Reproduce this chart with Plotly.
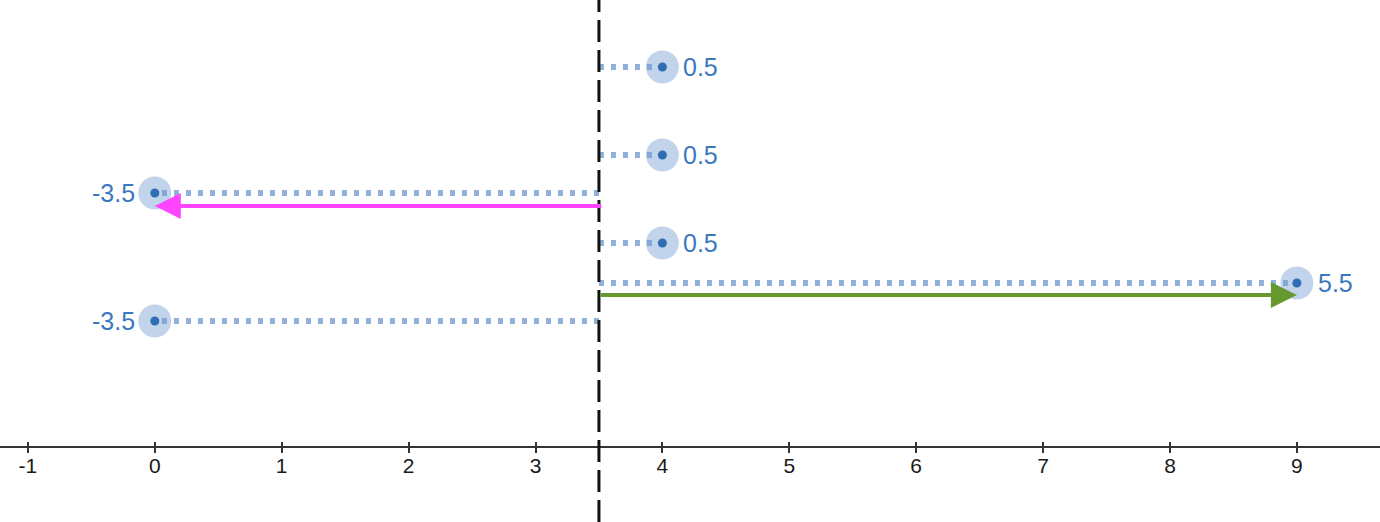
import plotly.graph_objects as go

# Data values (each row is one observation stacked vertically)
values = [4, 4, 0, 4, 9, 0]
row_levels = [380, 292, 254, 204, 164, 126]
mean_value = 3.5
arrow_neg_level = 241
arrow_pos_level = 152
neg_arrow_end = 0
pos_arrow_end = 9
tick_values = [-1, 0, 1, 2, 3, 4, 5, 6, 7, 8, 9]
tick_labels = ["-1", "0", "1", "2", "3", "4", "5", "6", "7", "8", "9"]

deviations = [v - mean_value for v in values]

def fmt(d):
    return ("%g" % d)

fig = go.Figure()

# dotted deviation lines
for v, y in zip(values, row_levels):
    fig.add_trace(go.Scatter(
        x=[mean_value, v], y=[y, y], mode="lines",
        line=dict(color="#8fb0d9", width=6, dash="5px,7px"),
        hoverinfo="skip", showlegend=False))

# halo circles
fig.add_trace(go.Scatter(
    x=values, y=row_levels, mode="markers",
    marker=dict(size=33, color="rgba(120,160,210,0.45)", line=dict(width=0)),
    hoverinfo="skip", showlegend=False))
# inner dots
fig.add_trace(go.Scatter(
    x=values, y=row_levels, mode="markers",
    marker=dict(size=9, color="#2f6db5", line=dict(width=0)),
    hoverinfo="skip", showlegend=False))

annotations = []
for v, y, d in zip(values, row_levels, deviations):
    right = d >= 0
    annotations.append(dict(
        x=v, y=y, xref="x", yref="y", text=fmt(d), showarrow=False,
        xanchor="left" if right else "right", yanchor="middle",
        xshift=19 if right else -18,
        font=dict(size=25, color="#3a78c0", family="Liberation Sans, Arial")))

# arrows
annotations.append(dict(
    x=neg_arrow_end, y=arrow_neg_level, ax=mean_value + 0.03, ay=arrow_neg_level,
    xref="x", yref="y", axref="x", ayref="y", text="", showarrow=True,
    arrowhead=2, arrowwidth=4, arrowsize=1.3, arrowcolor="#ff44ff", standoff=0))
annotations.append(dict(
    x=pos_arrow_end, y=arrow_pos_level, ax=mean_value, ay=arrow_pos_level,
    xref="x", yref="y", axref="x", ayref="y", text="", showarrow=True,
    arrowhead=2, arrowwidth=4, arrowsize=1.3, arrowcolor="#66992f", standoff=0))

fig.add_shape(type="line", x0=mean_value, x1=mean_value, y0=0, y1=1,
              xref="x", yref="paper",
              line=dict(color="#111111", width=3, dash="22px,8px"), layer="above")

fig_w, fig_h = 1380, 522
x_range = [-1.22, 9.655]
y_range = [-75, 447]
axis_pos = 75 / 522

fig.update_layout(
    width=fig_w, height=fig_h,
    margin=dict(l=0, r=0, t=0, b=0),
    paper_bgcolor="white", plot_bgcolor="white",
    showlegend=False,
    hovermode=False,
    annotations=annotations,
    xaxis=dict(range=x_range, showgrid=False, zeroline=False,
               showline=True, linecolor="#333333", linewidth=2,
               anchor="free", position=axis_pos,
               tickmode="array", tickvals=tick_values, ticktext=tick_labels,
               ticks="outside", ticklen=5, tickwidth=2, tickcolor="#333333",
               ticklabelstandoff=-5,
               tickfont=dict(size=21, color="#1a1a1a", family="Liberation Sans, Arial")),
    xaxis2=dict(range=x_range, overlaying="x", showgrid=False, zeroline=False,
                showline=False, anchor="free", position=axis_pos,
                tickmode="array", tickvals=tick_values, showticklabels=False,
                ticks="inside", ticklen=5, tickwidth=2, tickcolor="#333333"),
    yaxis=dict(range=y_range, visible=False, showgrid=False, zeroline=False),
)
# dummy trace to activate xaxis2
fig.add_trace(go.Scatter(x=[None], y=[None], xaxis="x2", yaxis="y",
                         hoverinfo="skip", showlegend=False))

fig.write_html("out.html",
               config={"displayModeBar": False},
               post_script="document.body.style.margin='0px';document.body.style.overflow='hidden';")
